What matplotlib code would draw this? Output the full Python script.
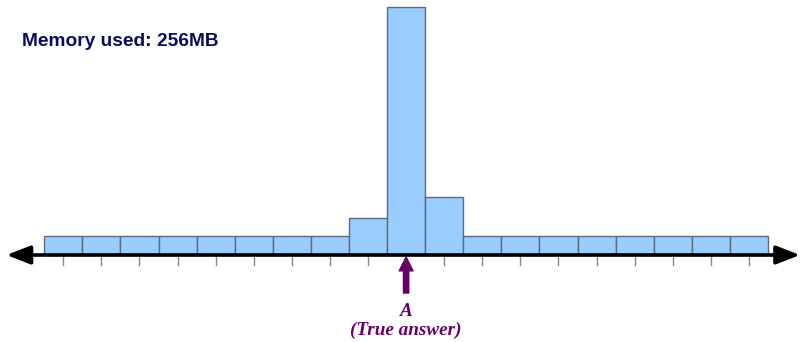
import matplotlib
matplotlib.use("Agg")
import matplotlib.pyplot as plt
import numpy as np

# Data
bins = list(range(19))
counts = [1, 1, 1, 1, 1, 1, 1, 1, 1.93, 12.85, 2.99, 1, 1, 1, 1, 1, 1, 1, 1]
true_bin = 9
title = "Memory used: 256MB"
label_a = "A"
label_true = "(True answer)"

W, H = 803, 342
fig = plt.figure(figsize=(W / 100, H / 100), dpi=100)
ax = fig.add_axes([0, 0, 1, 1])
ax.set_axis_off()

px = 38.09  # pixels per bin
x0 = 63.3   # pixel center of bin 0
py = 19.3   # pixels per unit
y0 = 255.0  # pixel of y=0 from top
ax.set_xlim(-x0 / px, (W - x0) / px)
ax.set_ylim(-(H - y0) / py, y0 / py)

ax.bar(bins, counts, width=1.0, color="#99CCFF", edgecolor="#5f6b7a", linewidth=1.0, zorder=2)

# ticks below axis
for b in bins:
    if b == true_bin:
        continue
    ax.plot([b, b], [0, -10 / py], color="#888888", lw=1.0, zorder=1)

# main axis double arrow
ax.annotate("", xy=((6.5 - x0) / px, 0), xytext=((800 - x0) / px, 0),
            arrowprops=dict(arrowstyle="<|-|>,head_length=0.9,head_width=0.35", lw=2.6, color="black",
                            mutation_scale=16, shrinkA=0, shrinkB=0),
            zorder=3)

# purple arrow
purple = "#660066"
ax.annotate("", xy=(true_bin, -2 / py), xytext=(true_bin, -38 / py),
            arrowprops=dict(width=3.8, headwidth=10, headlength=10, color=purple, shrink=0),
            zorder=4)

ax.text(true_bin, -(311 - y0) / py, label_a, ha="center", va="center", color=purple,
        fontsize=13.8, fontweight="bold", fontstyle="italic", family="Liberation Serif")
ax.text(true_bin, -(330 - y0) / py, label_true, ha="center", va="center", color=purple,
        fontsize=13.8, fontweight="bold", fontstyle="italic", family="Liberation Serif")

fig.text(22 / W, 1 - 46 / H, title, ha="left", va="baseline", color="#0a0a60",
         fontsize=13.75, fontweight="bold", family="Liberation Sans")

fig.savefig("out.png", dpi=100)
